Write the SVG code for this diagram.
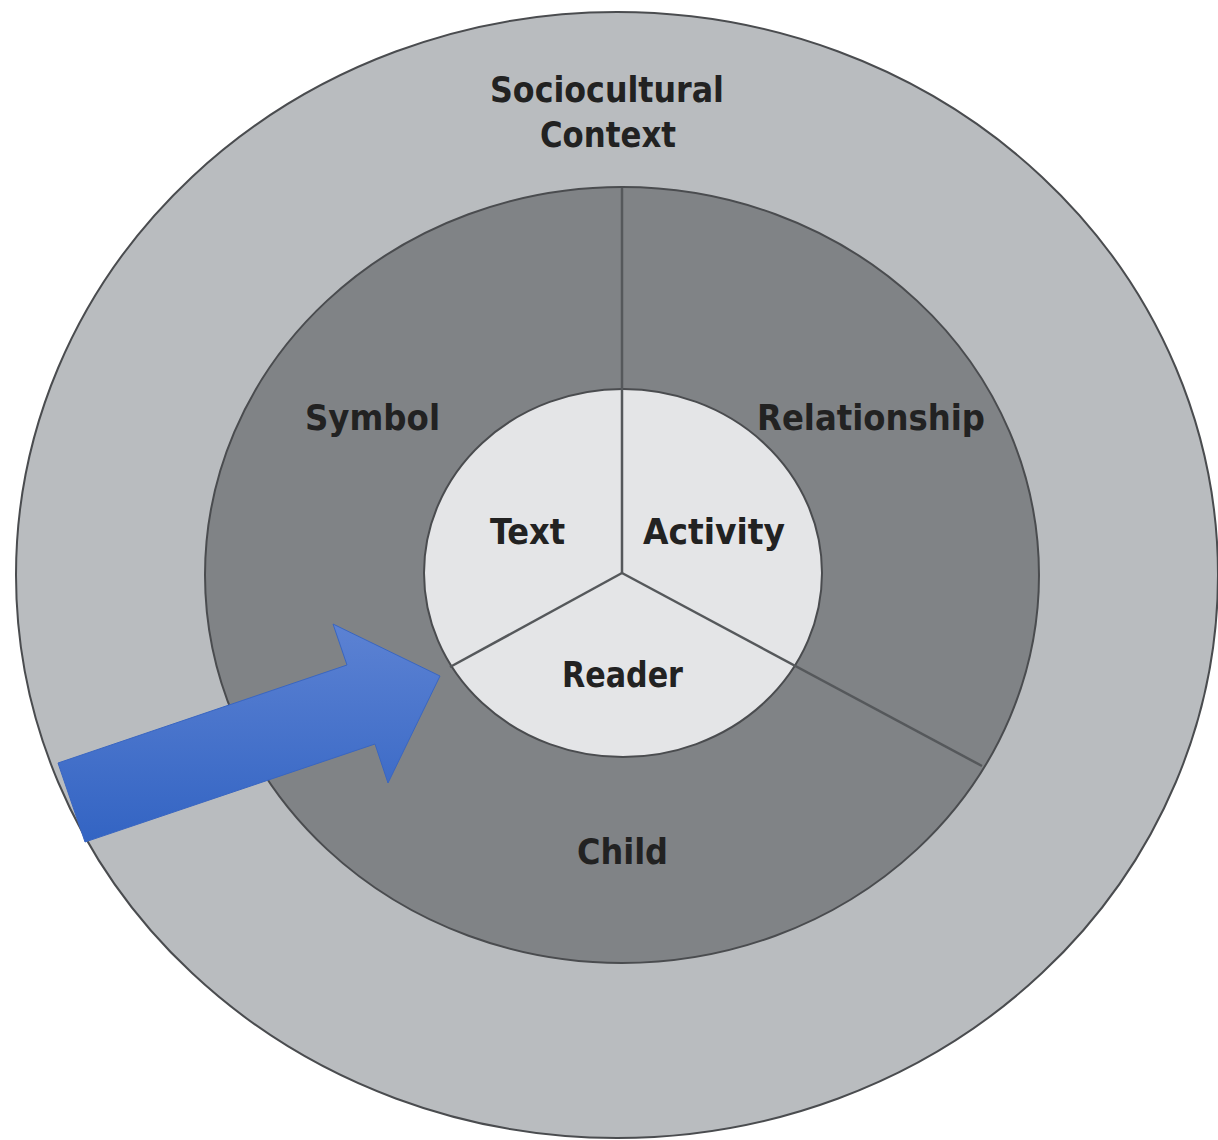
<svg xmlns="http://www.w3.org/2000/svg" width="1218" height="1140" viewBox="0 0 1218 1140">
<style>
.lbl{font-family:"DejaVu Sans Condensed","DejaVu Sans",sans-serif;font-weight:bold;font-size:36px;fill:#222;}
.ring{stroke:#4a4c4f;stroke-width:2;}
.spoke{stroke:#55585b;stroke-width:2.5;fill:none;}
</style>
<defs>
<linearGradient id="blue" x1="0" y1="0" x2="0" y2="1">
<stop offset="0" stop-color="#5c82d3"/>
<stop offset="1" stop-color="#3364c3"/>
</linearGradient>
</defs>
<rect width="1218" height="1140" fill="#ffffff"/>
<g id="sociocultural">
<ellipse class="ring" cx="617" cy="575" rx="601" ry="563" fill="#b9bcbf"/>
<text class="lbl" x="607" y="102" text-anchor="middle" textLength="234" lengthAdjust="spacingAndGlyphs">Sociocultural</text>
<text class="lbl" x="608" y="147" text-anchor="middle" textLength="136" lengthAdjust="spacingAndGlyphs">Context</text>
</g>
<g id="middle">
<ellipse class="ring" cx="622" cy="575" rx="417" ry="388" fill="#808386"/>
</g>
<g id="inner">
<ellipse class="ring" cx="623" cy="573" rx="199" ry="184" fill="#e4e5e7"/>
</g>
<g id="connectors">
<line class="spoke" x1="622" y1="573" x2="622" y2="188"/>
<line class="spoke" x1="622" y1="573" x2="450" y2="667"/>
<line class="spoke" x1="622" y1="573" x2="982" y2="766"/>
</g>
<g id="symbol"><text class="lbl" x="305" y="430" textLength="135" lengthAdjust="spacingAndGlyphs">Symbol</text></g>
<g id="relationship"><text class="lbl" x="757" y="430" textLength="228" lengthAdjust="spacingAndGlyphs">Relationship</text></g>
<g id="text"><text class="lbl" x="490" y="544" textLength="75" lengthAdjust="spacingAndGlyphs">Text</text></g>
<g id="activity"><text class="lbl" x="643" y="544" textLength="142" lengthAdjust="spacingAndGlyphs">Activity</text></g>
<g id="reader"><text class="lbl" x="562" y="687" textLength="121" lengthAdjust="spacingAndGlyphs">Reader</text></g>
<g id="child"><text class="lbl" x="577" y="864" textLength="91" lengthAdjust="spacingAndGlyphs">Child</text></g>
<g id="arrow">
<polygon points="58,763 347,665 333,624 440,676 388,783 375,744 85,842" fill="url(#blue)" stroke="#3a66c0" stroke-width="1"/>
</g>
</svg>
